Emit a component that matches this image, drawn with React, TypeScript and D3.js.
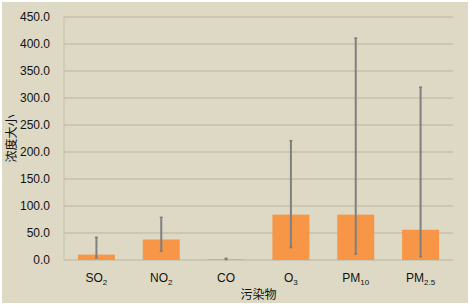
import { useEffect, useRef } from 'react'
import * as d3 from 'd3'

const categories = ['SO2', 'NO2', 'CO', 'O3', 'PM10', 'PM2.5']
const labelMain = ['SO', 'NO', 'CO', 'O', 'PM', 'PM']
const labelSub = ['2', '2', '', '3', '10', '2.5']
const means = [10, 38, 1, 84, 84, 56]
const lows = [4, 16, 1, 23, 11, 6]
const highs = [42, 79, 3, 221, 411, 320]
const yTicks = [0, 50, 100, 150, 200, 250, 300, 350, 400, 450]

export default function App() {
  const ref = useRef<SVGSVGElement>(null)

  useEffect(() => {
    const width = 469, height = 307
    const margin = { top: 17, right: 16, bottom: 47, left: 64 }

    const svg = d3.select(ref.current)
    svg.selectAll('*').remove()

    // background panel
    svg.append('rect')
      .attr('x', 2).attr('y', 2)
      .attr('width', 466).attr('height', 301)
      .attr('fill', '#ddd9c4')

    const x = d3.scaleBand()
      .domain(categories)
      .range([margin.left, width - margin.right])
      .paddingInner(0.43)
      .paddingOuter(0.215)

    const y = d3.scaleLinear()
      .domain([0, 450])
      .range([height - margin.bottom, margin.top])

    // grid lines
    svg.append('g')
      .selectAll('line')
      .data(yTicks)
      .join('line')
      .attr('x1', margin.left)
      .attr('x2', width - margin.right)
      .attr('y1', d => y(d))
      .attr('y2', d => y(d))
      .attr('stroke', '#c4c1ad')
      .attr('stroke-width', 1.5)

    // left axis line
    svg.append('line')
      .attr('x1', margin.left).attr('x2', margin.left)
      .attr('y1', y(450)).attr('y2', y(0))
      .attr('stroke', '#c4c1ad')
      .attr('stroke-width', 1)

    // y tick labels
    svg.append('g')
      .selectAll('text')
      .data(yTicks)
      .join('text')
      .attr('x', 50)
      .attr('y', d => y(d))
      .attr('dy', '0.35em')
      .attr('text-anchor', 'end')
      .style('font-family', 'Liberation Sans, Arial, sans-serif')
      .style('font-size', '12px')
      .attr('fill', '#111')
      .text(d => d.toFixed(1))

    // bars
    svg.append('g')
      .selectAll('rect')
      .data(categories)
      .join('rect')
      .attr('x', d => x(d)!)
      .attr('width', x.bandwidth())
      .attr('y', (d, i) => y(means[i]))
      .attr('height', (d, i) => y(0) - y(means[i]))
      .attr('fill', '#f79646')

    // error bars
    const err = svg.append('g')
      .selectAll('g')
      .data(categories)
      .join('g')
      .attr('transform', d => `translate(${x(d)! + x.bandwidth() / 2},0)`)
    err.append('line')
      .attr('y1', (d, i) => y(lows[i]))
      .attr('y2', (d, i) => y(highs[i]))
      .attr('stroke', '#7f7f7f')
      .attr('stroke-width', 2)
    err.append('line')
      .attr('x1', -1.5).attr('x2', 1.5)
      .attr('y1', (d, i) => y(highs[i]))
      .attr('y2', (d, i) => y(highs[i]))
      .attr('stroke', '#7f7f7f')
      .attr('stroke-width', 1.5)
    err.append('line')
      .attr('x1', -1.5).attr('x2', 1.5)
      .attr('y1', (d, i) => y(lows[i]))
      .attr('y2', (d, i) => y(lows[i]))
      .attr('stroke', '#7f7f7f')
      .attr('stroke-width', 1.5)

    // category labels with subscripts
    const lab = svg.append('g')
      .selectAll('text')
      .data(categories)
      .join('text')
      .attr('x', d => x(d)! + x.bandwidth() / 2)
      .attr('y', 282)
      .attr('text-anchor', 'middle')
      .style('font-family', 'Liberation Sans, Arial, sans-serif')
      .style('font-size', '12px')
      .attr('fill', '#111')
    lab.append('tspan').text((d, i) => labelMain[i])
    lab.append('tspan')
      .attr('dy', 3)
      .style('font-size', '8px')
      .text((d, i) => labelSub[i])

    // axis titles
    svg.append('text')
      .attr('x', (margin.left + width - margin.right) / 2)
      .attr('y', 299)
      .attr('text-anchor', 'middle')
      .style('font-family', 'Noto Sans CJK SC, sans-serif')
      .style('font-size', '12px')
      .attr('fill', '#111')
      .text('污染物')

    svg.append('text')
      .attr('transform', `translate(16,${(y(0) + y(450)) / 2}) rotate(-90)`)
      .attr('text-anchor', 'middle')
      .style('font-family', 'Noto Sans CJK SC, sans-serif')
      .style('font-size', '12px')
      .attr('fill', '#111')
      .text('浓度大小')
  }, [])

  return (
    <svg ref={ref} width={469} height={307}
      style={{ position: 'absolute', left: 0, top: 0, background: '#fff' }} />
  )
}
